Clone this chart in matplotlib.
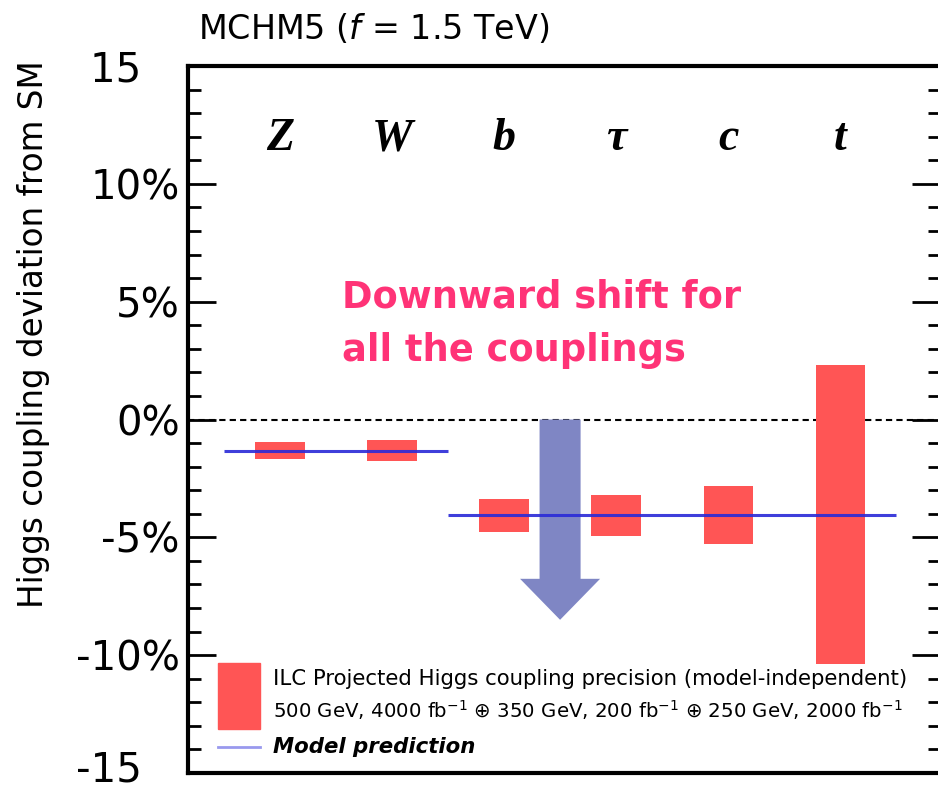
import matplotlib.pyplot as plt
from matplotlib.patches import Rectangle

# Couplings and the ILC precision band (low / high edge, in %)
categories = ['Z', 'W', 'b', 'τ', 'c', 't']
band_low = [-1.67, -1.74, -4.78, -4.96, -5.28, -10.38]
band_high = [-0.97, -0.89, -3.36, -3.19, -2.84, 2.30]

# Model prediction segments (category index span and value in %)
model_start = [-0.5, 1.5]
model_end = [1.5, 5.5]
model_value = [-1.32, -4.07]

# Arrow showing the shift (from, to in %)
arrow_from = 0.0
arrow_to = -8.5

yticks = [-15, -10, -5, 0, 5, 10, 15]
ytick_labels = ['', '-10%', '-5%', '0%', '5%', '10%', '15   ']
bottom_label = '-15   '

legend_line1 = 'ILC Projected Higgs coupling precision (model-independent)'
legend_line2 = (r'500 GeV, 4000 fb$^{-1}$ ⊕ 350 GeV, 200 fb$^{-1}$ ⊕ '
                r'250 GeV, 2000 fb$^{-1}$')
legend_model = 'Model prediction'

bar_color = '#ff5555'
line_color = '#2a2ad8'

plt.rcParams['font.family'] = ['DejaVu Sans']

fig = plt.figure(figsize=(9.38, 7.92), dpi=100)
ax = fig.add_axes([188 / 938, 1 - 773 / 792, 752 / 938, 707 / 792])

x = list(range(len(categories)))
heights = [h - l for l, h in zip(band_low, band_high)]
ax.bar(x, heights, bottom=band_low, width=0.44, color=bar_color, zorder=2)

for xs, xe, v in zip(model_start, model_end, model_value):
    ax.hlines(v, xs, xe, color=line_color, lw=2.2, alpha=0.9, zorder=4)

ax.axhline(0, color='black', lw=1.5, ls=(0, (3, 2)), zorder=1)

ax.arrow(2.5, arrow_from, 0, arrow_to - arrow_from, width=0.366,
         head_width=0.714, head_length=1.74, length_includes_head=True,
         color='#7f86c4', lw=0, zorder=3)

for xi, name in zip(x, categories):
    ax.text(xi, 11.9, name, ha='center', va='center', fontsize=33,
            family='Liberation Serif', weight='bold', style='italic')

ax.text(0.55, 4.77, 'Downward shift for', color='#ff3377',
        fontsize=26.5, weight='bold', ha='left', va='baseline')
ax.text(0.55, 2.47, 'all the couplings', color='#ff3377',
        fontsize=26.5, weight='bold', ha='left', va='baseline')

ax.set_xlim(-0.82, 5.89)
ax.set_ylim(-15, 15)
ax.set_xticks([])
ax.set_yticks(yticks)
ax.set_yticklabels(ytick_labels)
ax.set_yticks(range(-15, 16), minor=True)
ax.tick_params(axis='y', which='both', direction='in', right=True,
               labelsize=29, width=2, pad=6)
ax.tick_params(axis='y', which='major', length=20)
ax.tick_params(axis='y', which='minor', length=9)
for s in ax.spines.values():
    s.set_linewidth(3)

# bottom tick label sits right at the figure edge, so nudge it up a little
ax.text(-0.0106, -15.34, bottom_label, fontsize=29, ha='right', va='baseline',
        transform=ax.get_yaxis_transform(), clip_on=False)

ax.set_ylabel('Higgs coupling deviation from SM', fontsize=23.5)
ax.yaxis.set_label_coords(-0.1835, 0.62)

fig.text(198 / 938, 1 - 39 / 792, r'MCHM5 ($f$ = 1.5 TeV)', fontsize=24,
         va='baseline', ha='left')

# legend box, drawn in axes fractions
ax.add_patch(Rectangle((0.0399, 0.0622), 0.0558, 0.0934, color=bar_color,
                       transform=ax.transAxes, zorder=5))
ax.plot([0.0399, 0.0957], [0.0368, 0.0368], color='#9999ee', lw=2,
        transform=ax.transAxes, zorder=5)
ax.text(0.1130, 0.1245, legend_line1, fontsize=15.3, va='baseline',
        transform=ax.transAxes, zorder=5)
ax.text(0.1130, 0.0778, legend_line2, fontsize=14.2, va='baseline',
        transform=ax.transAxes, zorder=5)
ax.text(0.1130, 0.0283, legend_model, fontsize=15.3, va='baseline',
        weight='bold', style='italic', transform=ax.transAxes, zorder=5)

fig.savefig('out.png', dpi=100)
